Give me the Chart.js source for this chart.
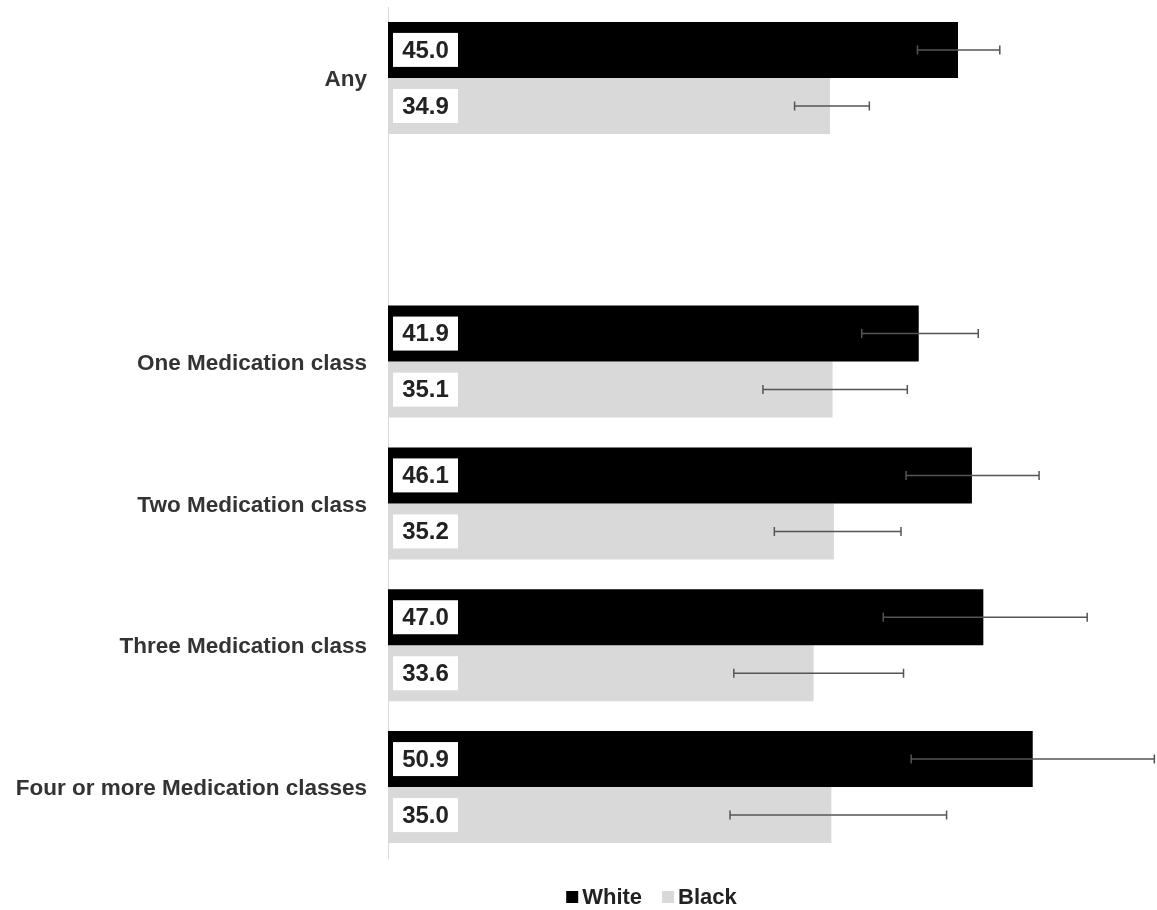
<!DOCTYPE html>
<html>
<head>
<meta charset="utf-8">
<script src="https://cdn.jsdelivr.net/npm/chart.js@4.4.1/dist/chart.umd.min.js"></script>
<style>
html,body{margin:0;padding:0;background:#fff;}
#wrap{width:1157px;height:910px;position:relative;}
</style>
</head>
<body>
<div id="wrap"><canvas id="c" width="1157" height="910"></canvas></div>
<script>
const categories = ['Any', '', 'One Medication class', 'Two Medication class', 'Three Medication class', 'Four or more Medication classes'];
const seriesNames = ['White', 'Black'];
const whiteValues = [45.0, null, 41.9, 46.1, 47.0, 50.9];
const blackValues = [34.9, null, 35.1, 35.2, 33.6, 35.0];
const whiteLow  = [41.8, null, 37.4, 40.9, 39.1, 41.3];
const whiteHigh = [48.3, null, 46.6, 51.4, 55.2, 60.5];
const blackLow  = [32.1, null, 29.6, 30.5, 27.3, 27.0];
const blackHigh = [38.0, null, 41.0, 40.5, 40.7, 44.1];
const seriesColors = ['#000000', '#d9d9d9'];

const FONT = '"Liberation Sans", Arial, sans-serif';

const errorBars = {
  id: 'errorBars',
  afterDatasetsDraw(chart) {
    const ctx = chart.ctx;
    const xs = chart.scales.x;
    const lows = [whiteLow, blackLow], highs = [whiteHigh, blackHigh];
    ctx.save();
    ctx.strokeStyle = '#555';
    ctx.lineWidth = 1.5;
    chart.data.datasets.forEach((ds, di) => {
      const meta = chart.getDatasetMeta(di);
      meta.data.forEach((bar, i) => {
        if (ds.data[i] == null) return;
        const x1 = xs.getPixelForValue(lows[di][i]);
        const x2 = xs.getPixelForValue(highs[di][i]);
        const y = bar.y;
        ctx.beginPath();
        ctx.moveTo(x1, y); ctx.lineTo(x2, y);
        ctx.moveTo(x1, y - 4.5); ctx.lineTo(x1, y + 4.5);
        ctx.moveTo(x2, y - 4.5); ctx.lineTo(x2, y + 4.5);
        ctx.stroke();
      });
    });
    chart.data.datasets.forEach((ds, di) => {
      const meta = chart.getDatasetMeta(di);
      meta.data.forEach((bar, i) => {
        if (ds.data[i] == null) return;
        const bx = bar.base + 5;
        const y = bar.y;
        ctx.fillStyle = '#ffffff';
        ctx.fillRect(bx, y - 17, 65, 34);
        ctx.fillStyle = '#222';
        ctx.font = 'bold 24px ' + FONT;
        ctx.textAlign = 'center';
        ctx.textBaseline = 'middle';
        ctx.fillText(ds.data[i].toFixed(1), bx + 32.5, y + 1);
      });
    });
    ctx.restore();
  }
};

const customLegend = {
  id: 'customLegend',
  afterDraw(chart) {
    const ctx = chart.ctx;
    ctx.save();
    ctx.font = 'bold 22px ' + FONT;
    ctx.textBaseline = 'middle';
    ctx.textAlign = 'left';
    const items = chart.data.datasets.map(d => ({label: d.label, color: d.backgroundColor}));
    const box = 12, gap = 4, itemGap = 20;
    let total = 0;
    items.forEach((it, k) => { it.w = box + gap + ctx.measureText(it.label).width; total += it.w + (k ? itemGap : 0); });
    let x = (chart.width - total) / 2 + 73;
    const y = 897;
    items.forEach(it => {
      ctx.fillStyle = it.color;
      ctx.fillRect(x, y - 6, box, box);
      ctx.fillStyle = '#222';
      ctx.fillText(it.label, x + box + gap, y + 1);
      x += it.w + itemGap;
    });
    ctx.restore();
  }
};

new Chart(document.getElementById('c'), {
  type: 'bar',
  data: {
    labels: categories,
    datasets: [
      { label: seriesNames[0], data: whiteValues, backgroundColor: seriesColors[0], barPercentage: 1.0, categoryPercentage: 0.79 },
      { label: seriesNames[1], data: blackValues, backgroundColor: seriesColors[1], barPercentage: 1.0, categoryPercentage: 0.79 }
    ]
  },
  options: {
    indexAxis: 'y',
    responsive: false,
    animation: false,
    layout: { padding: { left: 0, top: 7, right: 9, bottom: 52 } },
    plugins: { legend: { display: false }, tooltip: { enabled: false } },
    scales: {
      x: { display: false, min: 0, max: 60 },
      y: {
        grid: { display: false, drawTicks: false },
        border: { display: true, color: '#d9d9d9', width: 1 },
        ticks: { color: '#333', font: { family: FONT, size: 22.5, weight: 'bold' }, padding: 21, labelOffset: 2 },
        afterFit(scale) { scale.width = 388; scale.paddingTop = 0; scale.paddingBottom = 0; }
      }
    }
  },
  plugins: [errorBars, customLegend]
});
</script>
</body>
</html>
